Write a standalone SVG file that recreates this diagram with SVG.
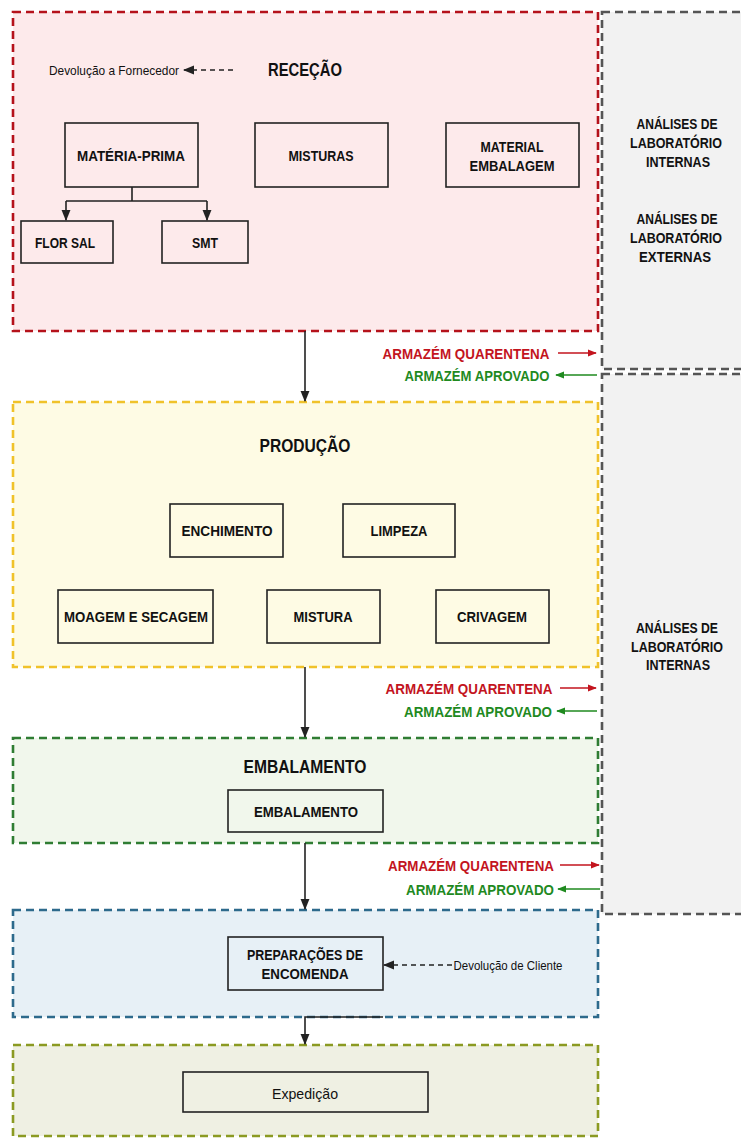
<svg xmlns="http://www.w3.org/2000/svg" width="741" height="1138" viewBox="0 0 741 1138">
  <style>
    text { font-family: "Liberation Sans", Arial, sans-serif; text-anchor: middle; dominant-baseline: central; fill: #111; }
    .lbl { font-size: 15px; font-weight: bold; }
    .ttl { font-size: 18px; font-weight: bold; }
    .note { font-size: 13px; }
    .red { fill: #c3141e; font-size: 15px; font-weight: bold; }
    .grn { fill: #1f8a1f; font-size: 15px; font-weight: bold; }
    .lab { font-size: 15px; font-weight: bold; }
    .box { fill: none; stroke: #222; stroke-width: 1.6; }
    .zone { stroke-width: 2.6; stroke-dasharray: 8 5; }
    .link { stroke: #222; stroke-width: 1.6; fill: none; }
  </style>
  <defs>
    <marker id="ah" viewBox="0 0 10 10" refX="9" refY="5" markerWidth="7" markerHeight="7" orient="auto-start-reverse">
      <path d="M0,1 L10,5 L0,9 z" fill="#222"/>
    </marker>
    <marker id="ahR" viewBox="0 0 10 10" refX="9" refY="5" markerWidth="6" markerHeight="6" orient="auto-start-reverse">
      <path d="M0,1 L10,5 L0,9 z" fill="#c3141e"/>
    </marker>
    <marker id="ahG" viewBox="0 0 10 10" refX="9" refY="5" markerWidth="6" markerHeight="6" orient="auto-start-reverse">
      <path d="M0,1 L10,5 L0,9 z" fill="#1f8a1f"/>
    </marker>
  </defs>

  <rect width="741" height="1138" fill="#ffffff"/>

  <!-- laboratory side panels -->
  <g id="lab-top">
    <rect x="602" y="12" width="145" height="357" fill="#f2f2f2" stroke="#555" class="zone" stroke-width="1.6"/>
    <text class="lab" x="677" y="123" textLength="81" lengthAdjust="spacingAndGlyphs">ANÁLISES DE</text>
    <text class="lab" x="676" y="142" textLength="92" lengthAdjust="spacingAndGlyphs">LABORATÓRIO</text>
    <text class="lab" x="678" y="161" textLength="64" lengthAdjust="spacingAndGlyphs">INTERNAS</text>
    <text class="lab" x="677" y="218" textLength="81" lengthAdjust="spacingAndGlyphs">ANÁLISES DE</text>
    <text class="lab" x="676" y="237" textLength="92" lengthAdjust="spacingAndGlyphs">LABORATÓRIO</text>
    <text class="lab" x="675" y="256" textLength="72" lengthAdjust="spacingAndGlyphs">EXTERNAS</text>
  </g>
  <g id="lab-bottom">
    <rect x="602" y="374" width="145" height="540" fill="#f2f2f2" stroke="#555" class="zone" stroke-width="1.6"/>
    <text class="lab" x="677" y="627" textLength="82" lengthAdjust="spacingAndGlyphs">ANÁLISES DE</text>
    <text class="lab" x="677" y="646" textLength="92" lengthAdjust="spacingAndGlyphs">LABORATÓRIO</text>
    <text class="lab" x="678" y="664" textLength="64" lengthAdjust="spacingAndGlyphs">INTERNAS</text>
  </g>

  <!-- RECEÇÃO -->
  <g id="rececao">
    <rect x="13" y="12" width="585" height="319" fill="#fdeaeb" stroke="#b5121b" class="zone"/>
    <text class="ttl" x="305" y="70" textLength="74" lengthAdjust="spacingAndGlyphs">RECEÇÃO</text>
    <text class="note" x="114" y="70" textLength="130" lengthAdjust="spacingAndGlyphs">Devolução a Fornecedor</text>
  </g>
  <g id="materia-prima">
    <rect class="box" x="65" y="123" width="133" height="64"/>
    <text class="lbl" x="131" y="155" textLength="108" lengthAdjust="spacingAndGlyphs">MATÉRIA-PRIMA</text>
  </g>
  <g id="misturas">
    <rect class="box" x="255" y="123" width="133" height="64"/>
    <text class="lbl" x="321" y="155" textLength="65" lengthAdjust="spacingAndGlyphs">MISTURAS</text>
  </g>
  <g id="material-embalagem">
    <rect class="box" x="446" y="123" width="133" height="64"/>
    <text class="lbl" x="512" y="146" textLength="63" lengthAdjust="spacingAndGlyphs">MATERIAL</text>
    <text class="lbl" x="512" y="165" textLength="85" lengthAdjust="spacingAndGlyphs">EMBALAGEM</text>
  </g>
  <g id="flor-sal">
    <rect class="box" x="21" y="221" width="92" height="42"/>
    <text class="lbl" x="65" y="242" textLength="60" lengthAdjust="spacingAndGlyphs">FLOR SAL</text>
  </g>
  <g id="smt">
    <rect class="box" x="162" y="221" width="86" height="42"/>
    <text class="lbl" x="205" y="242" textLength="26" lengthAdjust="spacingAndGlyphs">SMT</text>
  </g>

  <!-- PRODUÇÃO -->
  <g id="producao">
    <rect x="13" y="402" width="585" height="265" fill="#fefbe4" stroke="#f0c22a" class="zone"/>
    <text class="ttl" x="305" y="446" textLength="91" lengthAdjust="spacingAndGlyphs">PRODUÇÃO</text>
  </g>
  <g id="enchimento">
    <rect class="box" x="170" y="504" width="113" height="53"/>
    <text class="lbl" x="227" y="530" textLength="91" lengthAdjust="spacingAndGlyphs">ENCHIMENTO</text>
  </g>
  <g id="limpeza">
    <rect class="box" x="343" y="504" width="112" height="53"/>
    <text class="lbl" x="399" y="530" textLength="57" lengthAdjust="spacingAndGlyphs">LIMPEZA</text>
  </g>
  <g id="moagem">
    <rect class="box" x="58" y="590" width="155" height="53"/>
    <text class="lbl" x="136" y="616" textLength="144" lengthAdjust="spacingAndGlyphs">MOAGEM E SECAGEM</text>
  </g>
  <g id="mistura">
    <rect class="box" x="267" y="590" width="113" height="53"/>
    <text class="lbl" x="323" y="616" textLength="59" lengthAdjust="spacingAndGlyphs">MISTURA</text>
  </g>
  <g id="crivagem">
    <rect class="box" x="436" y="590" width="113" height="53"/>
    <text class="lbl" x="492" y="616" textLength="70" lengthAdjust="spacingAndGlyphs">CRIVAGEM</text>
  </g>

  <!-- EMBALAMENTO -->
  <g id="embalamento-zone">
    <rect x="13" y="738" width="585" height="105" fill="#f1f7ec" stroke="#2f7d33" class="zone"/>
    <text class="ttl" x="305" y="767" textLength="123" lengthAdjust="spacingAndGlyphs">EMBALAMENTO</text>
  </g>
  <g id="embalamento">
    <rect class="box" x="228" y="790" width="155" height="42"/>
    <text class="lbl" x="306" y="811" textLength="104" lengthAdjust="spacingAndGlyphs" font-weight="normal" style="font-weight:600">EMBALAMENTO</text>
  </g>

  <!-- PREPARAÇÕES -->
  <g id="preparacoes-zone">
    <rect x="13" y="910" width="585" height="107" fill="#e7f0f6" stroke="#2d6a8c" class="zone"/>
    <text class="note" x="508" y="965" textLength="109" lengthAdjust="spacingAndGlyphs">Devolução de Cliente</text>
  </g>
  <g id="preparacoes">
    <rect class="box" x="228" y="937" width="155" height="53"/>
    <text class="lbl" x="305" y="954" textLength="116" lengthAdjust="spacingAndGlyphs">PREPARAÇÕES DE</text>
    <text class="lbl" x="305" y="973" textLength="87" lengthAdjust="spacingAndGlyphs">ENCOMENDA</text>
  </g>

  <!-- EXPEDIÇÃO -->
  <g id="expedicao-zone">
    <rect x="13" y="1045" width="585" height="91" fill="#eff0e3" stroke="#8b9a22" class="zone"/>
  </g>
  <g id="expedicao">
    <rect class="box" x="183" y="1072" width="245" height="40"/>
    <text x="305" y="1093" font-size="15" textLength="66" lengthAdjust="spacingAndGlyphs">Expedição</text>
  </g>

  <!-- warehouse status labels -->
  <g id="armazem-1">
    <text class="red" x="466" y="353" textLength="167" lengthAdjust="spacingAndGlyphs">ARMAZÉM QUARENTENA</text>
    <text class="grn" x="477" y="375" textLength="145" lengthAdjust="spacingAndGlyphs">ARMAZÉM APROVADO</text>
  </g>
  <g id="armazem-2">
    <text class="red" x="469" y="688" textLength="167" lengthAdjust="spacingAndGlyphs">ARMAZÉM QUARENTENA</text>
    <text class="grn" x="478" y="711" textLength="148" lengthAdjust="spacingAndGlyphs">ARMAZÉM APROVADO</text>
  </g>
  <g id="armazem-3">
    <text class="red" x="471" y="865" textLength="166" lengthAdjust="spacingAndGlyphs">ARMAZÉM QUARENTENA</text>
    <text class="grn" x="480" y="889" textLength="148" lengthAdjust="spacingAndGlyphs">ARMAZÉM APROVADO</text>
  </g>

  <!-- connectors -->
  <g id="connectors">
    <path class="link" d="M132,187 V201 M66,201 H207"/>
    <path class="link" d="M66,201 V220" marker-end="url(#ah)"/>
    <path class="link" d="M207,201 V220" marker-end="url(#ah)"/>
    <path class="link" d="M233,70 H184" stroke-dasharray="5 4" marker-end="url(#ah)"/>
    <path class="link" d="M452,965 H384" stroke-dasharray="5 4" marker-end="url(#ah)"/>
    <path class="link" d="M305,331 V401" marker-end="url(#ah)"/>
    <path class="link" d="M305,667 V737" marker-end="url(#ah)"/>
    <path class="link" d="M305,843 V909" marker-end="url(#ah)"/>
    <path class="link" d="M383,1017 H305 V1044" marker-end="url(#ah)"/>
    <path d="M558,353 H596" stroke="#c3141e" stroke-width="1.5" marker-end="url(#ahR)"/>
    <path d="M597,375 H556" stroke="#1f8a1f" stroke-width="1.5" marker-end="url(#ahG)"/>
    <path d="M560,688 H596" stroke="#c3141e" stroke-width="1.5" marker-end="url(#ahR)"/>
    <path d="M597,711 H557" stroke="#1f8a1f" stroke-width="1.5" marker-end="url(#ahG)"/>
    <path d="M560,865 H599" stroke="#c3141e" stroke-width="1.5" marker-end="url(#ahR)"/>
    <path d="M600,889 H558" stroke="#1f8a1f" stroke-width="1.5" marker-end="url(#ahG)"/>
  </g>
</svg>
